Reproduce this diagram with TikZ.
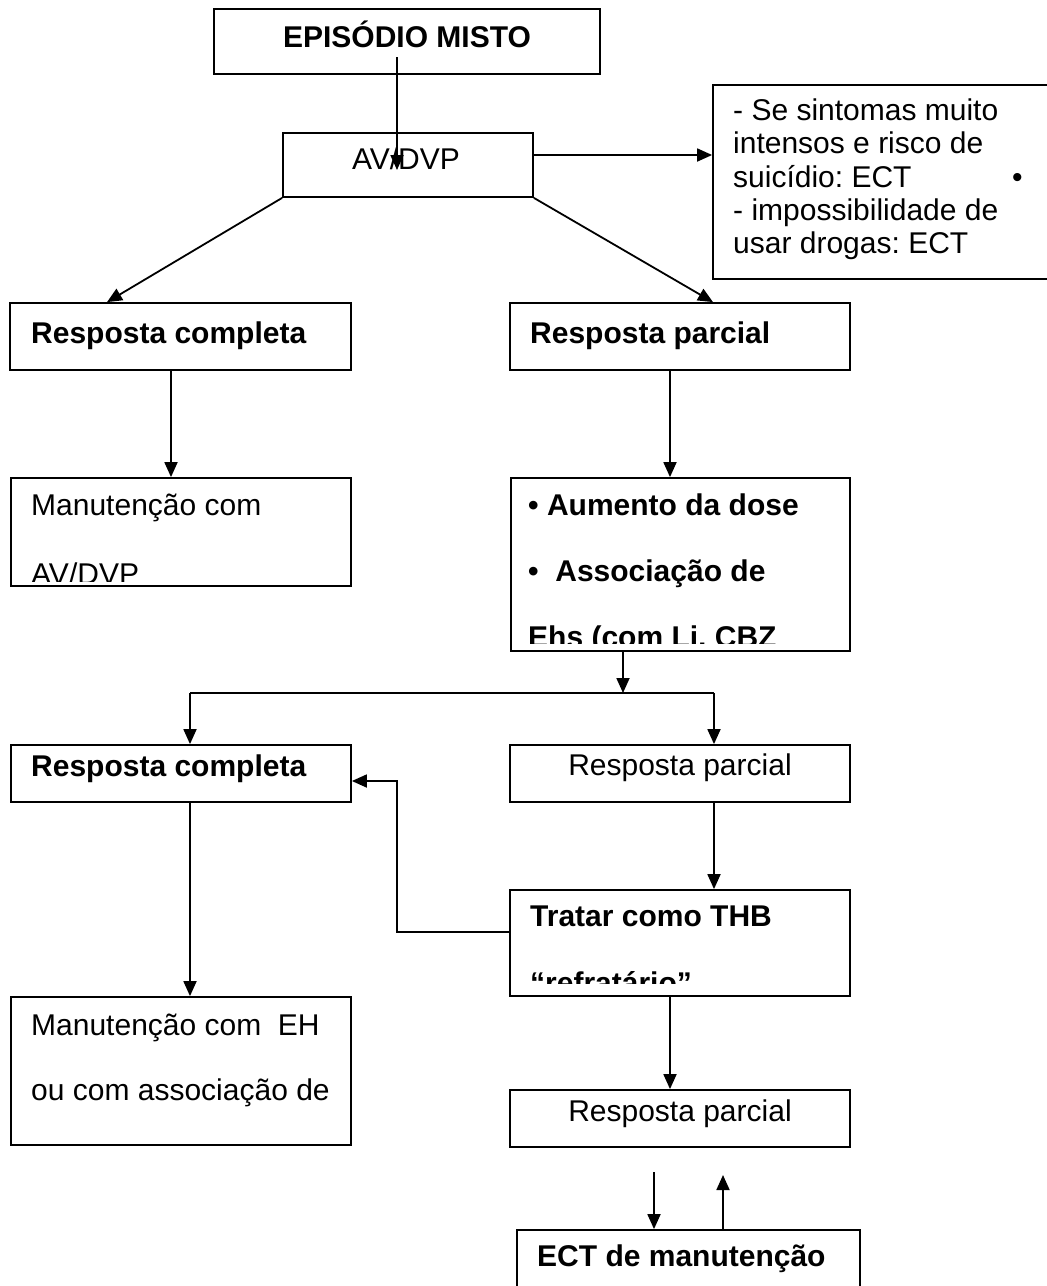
\documentclass[tikz,border=0pt]{standalone}
\usepackage{fontspec}
\setmainfont{Liberation Sans}
\usetikzlibrary{arrows.meta,fit}
\frenchspacing
\tikzset{
  box/.style={draw, line width=1.8pt, inner sep=0pt, rectangle},
  arr/.style={line width=1.8pt, -{Triangle[length=15pt,width=13pt]}},
  ln/.style={line width=1.8pt},
  txt/.style={anchor=base west, inner sep=0pt, font=\fontsize{30}{35}\selectfont},
  btxt/.style={anchor=base west, inner sep=0pt, font=\fontsize{30}{35}\selectfont\bfseries},
}
\begin{document}
\begin{tikzpicture}[x=1pt,y=-1pt]
\useasboundingbox (0,0) rectangle (1047,1286);
\clip (0,0) rectangle (1047,1286);
\fill[white] (0,0) rectangle (1047,1286);

% boxes
\node[box, fit={(214,9) (600,74)}] (epi) {};
\node[box, fit={(283,133) (533,197)}] (av) {};
\node[box, fit={(713,85) (1070,279)}] (side) {};
\node[box, fit={(10,303) (351,370)}] (rc1) {};
\node[box, fit={(510,303) (850,370)}] (rp1) {};
\node[box, fit={(11,478) (351,586)}] (m1) {};
\node[box, fit={(511,478) (850,651)}] (aum) {};
\node[box, fit={(11,745) (351,802)}] (rc2) {};
\node[box, fit={(510,745) (850,802)}] (rp2) {};
\node[box, fit={(510,890) (850,996)}] (thb) {};
\node[box, fit={(11,997) (351,1145)}] (m2) {};
\node[box, fit={(510,1090) (850,1147)}] (rp3) {};
\node[box, fit={(517,1230) (860,1310)}] (ect) {};

% texts
\node[btxt, anchor=base] (tepi) at (407,47) {EPISÓDIO MISTO};
\node[txt, anchor=base] (tav) at (406,169) {AV/DVP};
\node[txt] (ts1) at (733,120) {- Se sintomas muito};
\node[txt] (ts2) at (733,153) {intensos e risco de};
\node[txt] (ts3) at (733,187) {suicídio: ECT};
\node[txt] (ts4) at (733,220) {- impossibilidade de};
\node[txt] (ts5) at (733,253) {usar drogas: ECT};
\node[txt] (tsb) at (1012,187) {•};
\node[btxt] (trc1) at (31,343) {Resposta completa};
\node[btxt] (trp1) at (530,343) {Resposta parcial};
\node[txt] (tm1a) at (31,515) {Manutenção com};
\begin{scope}
  \clip (11,478) rectangle (351,581);
  \node[txt] (tm1b) at (31,584) {AV/DVP};
\end{scope}
\node[btxt] (tau1) at (528,515) {• Aumento da dose};
\node[btxt] (tau2) at (528,581) {•\ \ Associação de};
\begin{scope}
  \clip (511,478) rectangle (850,643);
  \node[btxt] (tau3) at (528,647) {Ehs (com Li, CBZ};
\end{scope}
\node[btxt] (trc2) at (31,776) {Resposta completa};
\node[txt, anchor=base] (trp2) at (680,775) {Resposta parcial};
\node[btxt] (tthb1) at (530,926) {Tratar como THB};
\begin{scope}
  \clip (510,890) rectangle (850,983);
  \node[btxt] (tthb2) at (530,993) {“refratário”};
\end{scope}
\node[txt] (tm2a) at (31,1035) {Manutenção com\ \ EH};
\node[txt] (tm2b) at (31,1100) {ou com associação de};
\node[txt, anchor=base] (trp3) at (680,1121) {Resposta parcial};
\node[btxt] (tect) at (537,1266) {ECT de manutenção};

% connectors
\coordinate (c1) at (397,57);
\coordinate (c2) at (397,170);
\draw[arr] (c1) -- (c2);
\path ([yshift=10pt]av.east) coordinate (c3);
\draw[arr] (c3) -- (side.west |- c3);
\draw[arr] (av.south west) -- ([xshift=-73.5pt]rc1.north);
\draw[arr] (av.south east) -- ([xshift=33pt]rp1.north);
\path ([xshift=-9.5pt]rc1.south) coordinate (p1);
\draw[arr] (p1) -- (p1 |- m1.north);
\path ([xshift=-10pt]rp1.south) coordinate (p2);
\draw[arr] (p2) -- (p2 |- aum.north);
\path ([xshift=-57.5pt]aum.south) coordinate (p3);
\coordinate (j) at (623,693);
\draw[arr] (p3) -- (j);
\path ([xshift=9pt]rc2.north) coordinate (q1);
\path ([xshift=34pt]rp2.north) coordinate (q2);
\draw[ln] (q1 |- j) -- (q2 |- j);
\draw[arr] (q1 |- j) -- (q1);
\draw[arr] (q2 |- j) -- (q2);
\path ([xshift=34pt]rp2.south) coordinate (p4);
\draw[arr] (p4) -- (p4 |- thb.north);
\path ([yshift=11pt]thb.west) coordinate (p5);
\path ([yshift=-7.5pt]rc2.east) coordinate (p6);
\coordinate (bend) at (397,0);
\draw[arr] (p5) -- (p5 -| bend) -- (p6 -| bend) -- (p6);
\path ([xshift=9pt]rc2.south) coordinate (p7);
\draw[arr] (p7) -- (p7 |- m2.north);
\path ([xshift=-10pt]thb.south) coordinate (p8);
\draw[arr] (p8) -- (p8 |- rp3.north);
\path ([xshift=-34.5pt]ect.north) coordinate (p9);
\coordinate (t1) at (654,1172);
\draw[arr] (t1) -- (p9);
\path ([xshift=34.5pt]ect.north) coordinate (p10);
\coordinate (t2) at (723,1175);
\draw[arr] (p10) -- (t2);
\end{tikzpicture}
\end{document}
